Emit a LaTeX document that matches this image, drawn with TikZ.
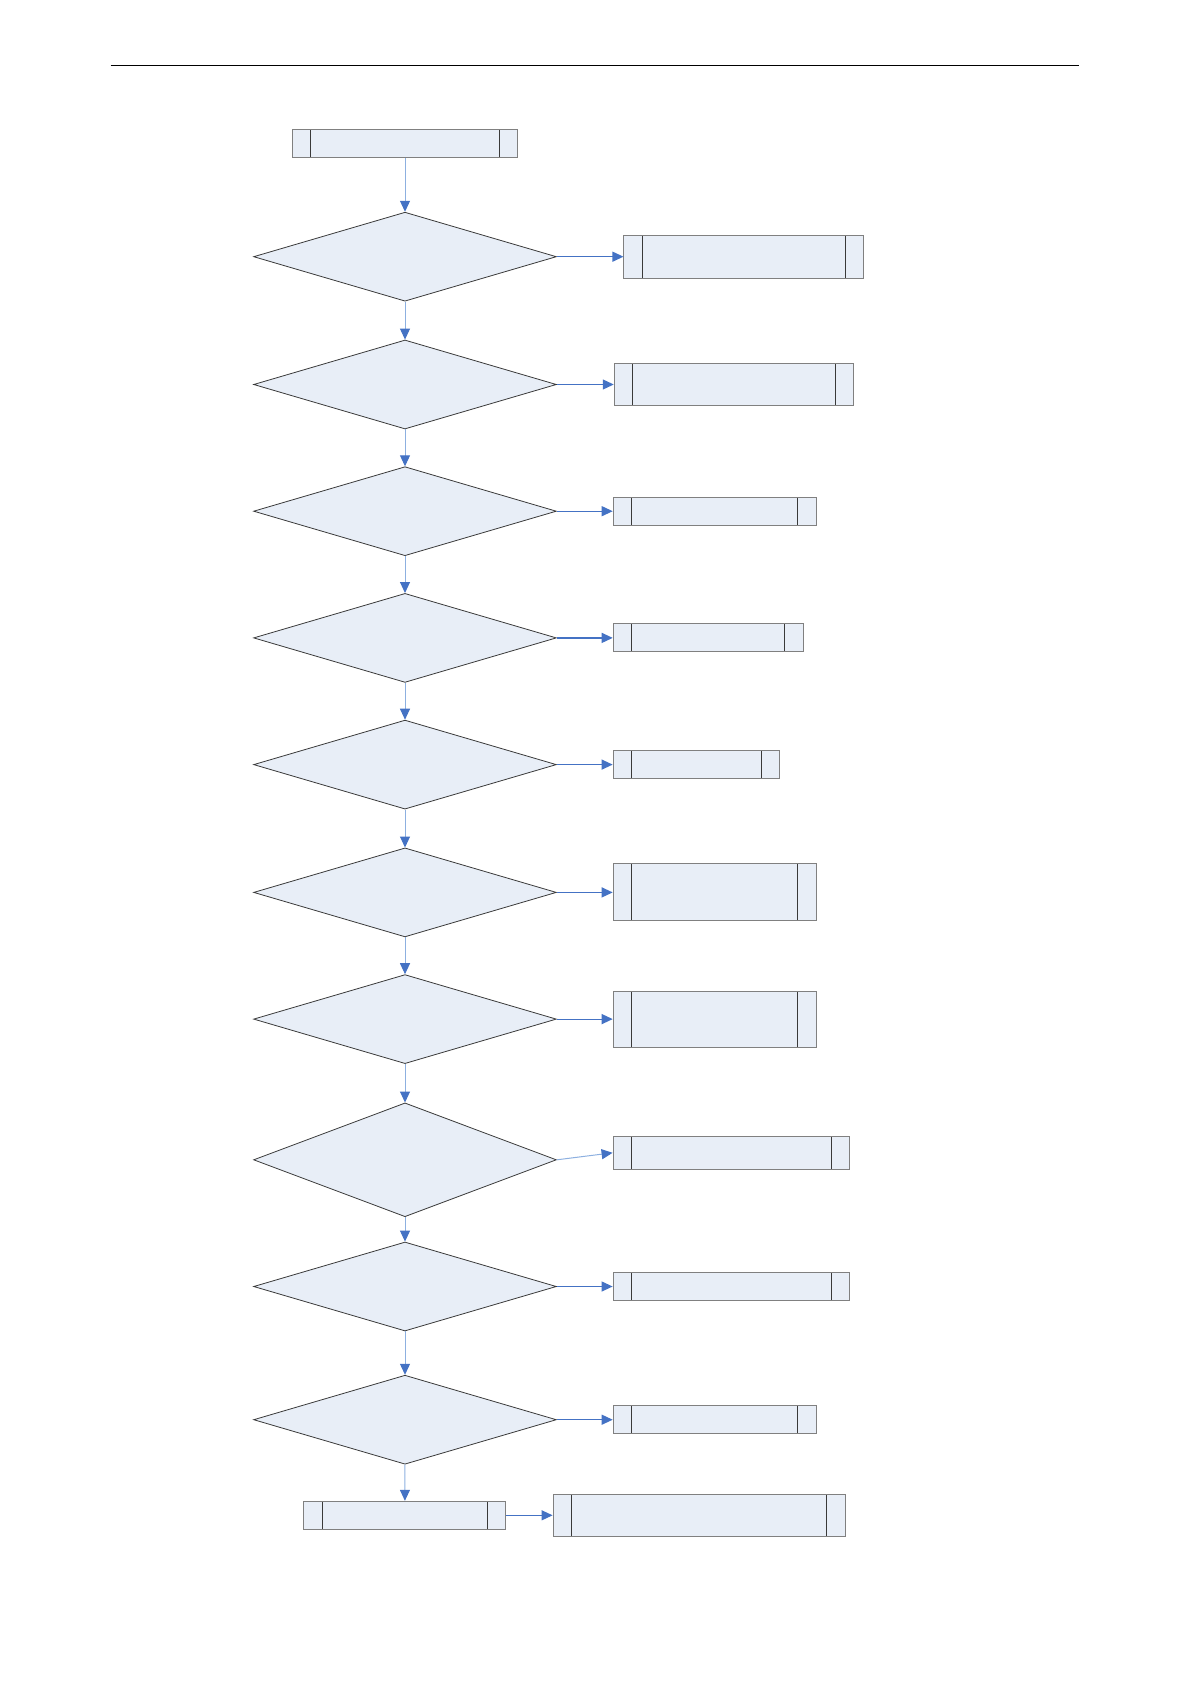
\documentclass[tikz,border=0pt]{standalone}
\usepackage{xcolor}
\usepackage{tikz}
\usetikzlibrary{arrows.meta,positioning,shapes.geometric}
\definecolor{fillx}{HTML}{E8EEF7}
\definecolor{edgex}{HTML}{808080}
\definecolor{darkx}{HTML}{3A3A3A}
\definecolor{bluex}{HTML}{4472C4}
\definecolor{paleblue}{HTML}{8DB0E0}
\tikzset{
  dec/.style={diamond,draw=darkx,line width=0.4pt,fill=fillx,inner sep=0pt,minimum width=151.4pt,minimum height=44.5pt},
  proc/.style={rectangle,draw=edgex,line width=0.5pt,fill=fillx,inner sep=0pt,minimum height=14pt,
    path picture={\draw[darkx,line width=0.5pt]
      ([xshift=9.2pt]path picture bounding box.north west) -- ([xshift=9.2pt]path picture bounding box.south west)
      ([xshift=-9.2pt]path picture bounding box.north east) -- ([xshift=-9.2pt]path picture bounding box.south east);}},
  down/.style={paleblue,line width=0.5pt,-{Triangle[length=5.5pt,width=5pt,color=bluex,fill=bluex]}},
  side/.style={bluex,line width=0.6pt,-{Triangle[length=5.5pt,width=5pt,color=bluex,fill=bluex]}}
}
\begin{document}
\begin{tikzpicture}[x=0.5pt,y=-0.5pt]
\useasboundingbox (0,0) rectangle (1191,1684);
% header rule
\draw[black,line width=0.75pt] (110.6,65.5) -- (1079,65.5);

% main column
\node[proc,minimum width=112.75pt] (start) at (405,144) {};
\node[dec] (d1) at (405,256.7) {};
\node[dec] (d2) at (405,384.5) {};
\node[dec] (d3) at (405,511.2) {};
\node[dec] (d4) at (405,637.9) {};
\node[dec] (d5) at (405,764.6) {};
\node[dec] (d6) at (405,892.4) {};
\node[dec] (d7) at (405,1019.1) {};
\node[dec,minimum height=56.9pt] (d8) at (405,1159.8) {};
\node[dec] (d9) at (405,1286.5) {};
\node[dec] (d10) at (405,1419.7) {};
\node[proc,minimum width=101pt] (last) at (404.9,1515.3) {};

% branches
\node[proc,minimum width=119.75pt,minimum height=21.5pt] (b1) at (743.7,256.7) {};
\node[proc,minimum width=119.75pt,minimum height=21pt] (b2) at (734,384.5) {};
\node[proc,minimum width=101.5pt] (b3) at (714.7,511.2) {};
\node[proc,minimum width=95pt] (b4) at (708.2,637.9) {};
\node[proc,minimum width=83.25pt] (b5) at (696.4,764.6) {};
\node[proc,minimum width=101.5pt,minimum height=28.5pt] (b6) at (714.7,892.4) {};
\node[proc,minimum width=101.5pt,minimum height=28pt] (b7) at (714.7,1019.1) {};
\node[proc,minimum width=118.2pt,minimum height=16.5pt] (b8) at (731.3,1152.8) {};
\node[proc,minimum width=118.2pt] (b9) at (731.3,1286.5) {};
\node[proc,minimum width=101.5pt] (b10) at (714.7,1419.7) {};
\node[proc,minimum width=146pt,minimum height=21pt] (end) at (699.1,1515.3) {};

\draw[down] (start) -- (d1);
\draw[down] (d1) -- (d2);
\draw[down] (d2) -- (d3);
\draw[down] (d3) -- (d4);
\draw[down] (d4) -- (d5);
\draw[down] (d5) -- (d6);
\draw[down] (d6) -- (d7);
\draw[down] (d7) -- (d8);
\draw[down] (d8) -- (d9);
\draw[down] (d9) -- (d10);
\draw[down] (d10) -- (last);

\draw[side] (d1.east) -- (b1.west);
\draw[side] (d2.east) -- (b2.west);
\draw[side] (d3.east) -- (b3.west);
\draw[side] (d4.east) -- (b4.west);
\draw[side] (d5.east) -- (b5.west);
\draw[side] (d6.east) -- (b6.west);
\draw[side] (d7.east) -- (b7.west);
\draw[down] (d8.east) -- (b8.west);
\draw[side] (d9.east) -- (b9.west);
\draw[side] (d10.east) -- (b10.west);
\draw[side] (last) -- (end);
\end{tikzpicture}
\end{document}
